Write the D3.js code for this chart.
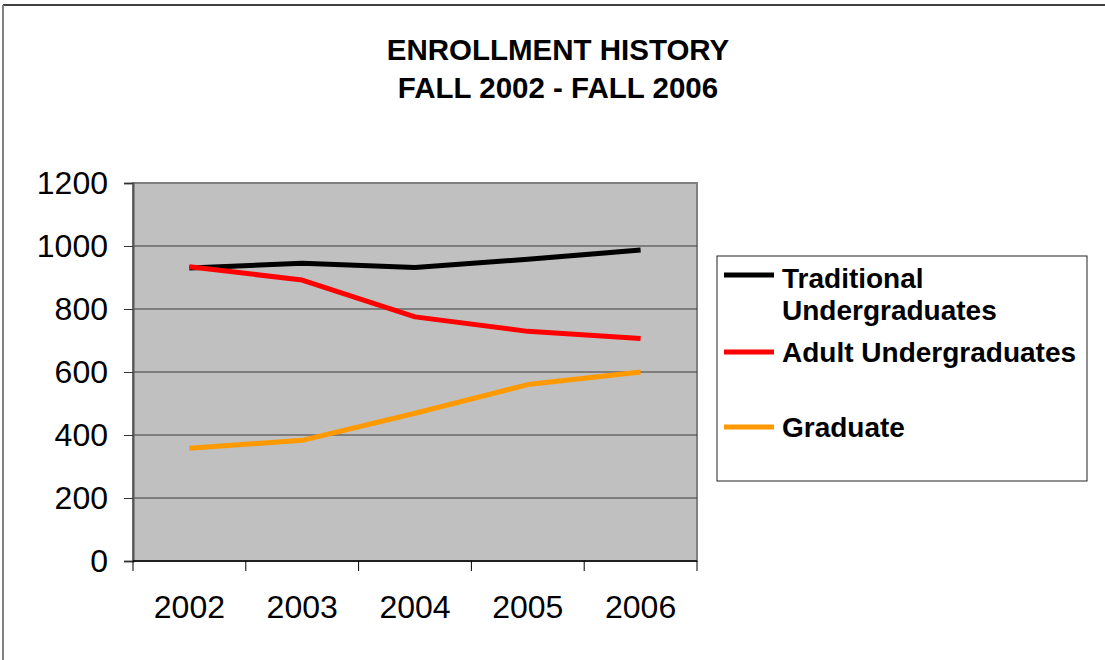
<!DOCTYPE html>
<html>
<head>
<meta charset="utf-8">
<script src="https://cdn.jsdelivr.net/npm/d3@7"></script>
<style>
    body { margin: 0; background: #fff; }
    svg { display: block; font-family: Arial, "Liberation Sans", sans-serif; }
</style>
</head>
<body>
<svg id="svg_chart" width="1105" height="660"></svg>
<script>
let years = ['2002', '2003', '2004', '2005', '2006'];
let traditional = [930, 945, 932, 958, 987];
let adult = [934, 892, 775, 729, 706];
let graduate = [358, 383, 469, 560, 600];
let series_names = ['Traditional Undergraduates', 'Adult Undergraduates', 'Graduate'];
let series_colors = ['#000000', '#ff0000', '#ff9900'];
let y_ticks = [0, 200, 400, 600, 800, 1000, 1200];
let title_lines = ['ENROLLMENT HISTORY', 'FALL 2002 - FALL 2006'];

let chart = (function () {

    let svg = d3.select('#svg_chart');

    function draw() {
        svg.selectAll('*').remove();
        let left = 133, right = 697, top = 183, bottom = 561;

        // outer frame (only top and left visible)
        svg.append('line').attr('x1', 3).attr('y1', 5).attr('x2', 1105).attr('y2', 5)
            .attr('stroke', '#000').attr('stroke-width', 1.5);
        svg.append('line').attr('x1', 3).attr('y1', 5).attr('x2', 3).attr('y2', 660)
            .attr('stroke', '#808080').attr('stroke-width', 2);

        // title
        svg.append('g').selectAll('text').data(title_lines).enter()
            .append('text')
            .attr('x', 558)
            .attr('y', (d, i) => 60 + i * 38)
            .attr('text-anchor', 'middle')
            .attr('font-size', 29.5)
            .attr('font-weight', 'bold')
            .text(d => d);

        let x = d3.scaleBand().domain(years).range([left, right]);
        let y = d3.scaleLinear().domain([0, 1200]).range([bottom, top]);

        // plot area
        svg.append('rect')
            .attr('x', left).attr('y', top)
            .attr('width', right - left).attr('height', bottom - top)
            .attr('fill', '#c0c0c0')
            .attr('stroke', '#808080')
            .attr('stroke-width', 2);

        // gridlines
        svg.append('g').selectAll('line').data(y_ticks.filter(d => d > 0 && d < 1200)).enter()
            .append('line')
            .attr('x1', left).attr('x2', right)
            .attr('y1', d => y(d)).attr('y2', d => y(d))
            .attr('stroke', '#3a3a3a')
            .attr('stroke-width', 1);

        // y axis
        let yAxis = svg.append('g')
            .attr('transform', `translate(${left},0)`)
            .call(d3.axisLeft(y).tickValues(y_ticks).tickSize(9).tickPadding(16).tickFormat(d3.format('d')));
        yAxis.select('.domain').attr('stroke', '#555').attr('stroke-width', 2);
        yAxis.selectAll('.tick line').attr('stroke', '#333');
        yAxis.selectAll('text').attr('font-size', 32).attr('fill', '#000')
            .attr('font-family', 'Arial, "Liberation Sans", sans-serif');

        // x axis with ticks at band edges
        svg.append('line').attr('x1', left).attr('x2', right).attr('y1', bottom).attr('y2', bottom)
            .attr('stroke', '#000').attr('stroke-width', 1.5);
        let edges = years.map(d => x(d)).concat([right]);
        svg.append('g').selectAll('line').data(edges).enter()
            .append('line')
            .attr('x1', d => d).attr('x2', d => d)
            .attr('y1', bottom).attr('y2', bottom + 10)
            .attr('stroke', '#000').attr('stroke-width', 1);
        svg.append('g').selectAll('text').data(years).enter()
            .append('text')
            .attr('x', d => x(d) + x.bandwidth() / 2)
            .attr('y', 618)
            .attr('text-anchor', 'middle')
            .attr('font-size', 32)
            .text(d => d);

        // lines
        let all_series = [traditional, adult, graduate];
        let line = d3.line()
            .x((d, i) => x(years[i]) + x.bandwidth() / 2)
            .y(d => y(d));
        svg.append('g').selectAll('path').data(all_series).enter()
            .append('path')
            .attr('d', d => line(d))
            .attr('fill', 'none')
            .attr('stroke', (d, i) => series_colors[i])
            .attr('stroke-width', 5)
            .attr('stroke-linejoin', 'round');

        // legend
        let legend = svg.append('g');
        legend.append('rect')
            .attr('x', 717).attr('y', 256)
            .attr('width', 370).attr('height', 225)
            .attr('fill', '#fff')
            .attr('stroke', '#222')
            .attr('stroke-width', 1);
        let legend_y = [275, 352, 427];
        let legend_labels = [['Traditional', 'Undergraduates'], ['Adult Undergraduates'], ['Graduate']];
        let baseline_y = [288, 362, 437];
        legend_y.forEach((ly, i) => {
            legend.append('line')
                .attr('x1', 724).attr('x2', 774)
                .attr('y1', ly).attr('y2', ly)
                .attr('stroke', series_colors[i])
                .attr('stroke-width', 5);
            let t = legend.append('text')
                .attr('x', 782)
                .attr('y', baseline_y[i])
                .attr('font-size', 28)
                .attr('font-weight', 'bold');
            legend_labels[i].forEach((s, j) => {
                t.append('tspan').attr('x', 782).attr('dy', j === 0 ? 0 : 32).text(s);
            });
        });
    }

    return {
        draw
    }
})()

chart.draw();
</script>
</body>
</html>
